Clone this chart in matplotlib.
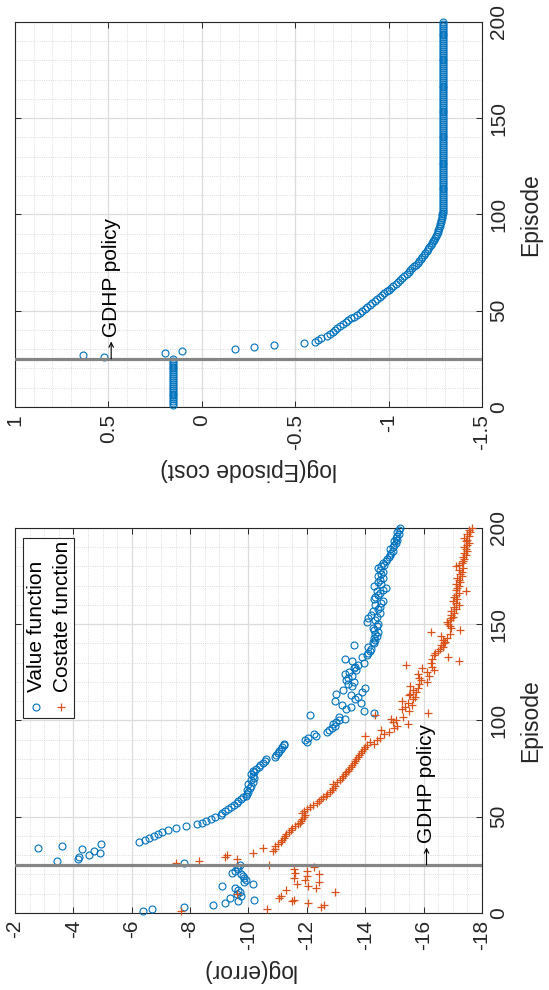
import numpy as np
import matplotlib.pyplot as plt
from matplotlib.ticker import MultipleLocator, FuncFormatter
from matplotlib.patches import Rectangle

plt.rcParams['font.family'] = ['Liberation Sans', 'DejaVu Sans']
plt.rcParams['axes.unicode_minus'] = False

# episode index (shown on the vertical axis, the figure is turned on its side)
episodes = np.arange(1, 201)
switch_episode = 25

# log(error) of the value function, episodes 1..200
value_err = [
    -6.4, -6.7, -7.8, -8.8, -9.2, -9.65, -10.2, -9.35, -9.75, -9.6,
    -9.7, -9.65, -9.55, -9.1, -10.15, -9.85, -9.9, -9.85, -9.8, -9.75,
    -9.45, -9.55, -9.65, -9.6, -9.7, -7.8, -3.45, -4.15, -4.2, -4.55,
    -4.9, -4.7, -4.3, -2.8, -3.6, -4.95, -6.25, -6.45, -6.6, -6.75,
    -6.9, -7.05, -7.25, -7.5, -7.85, -8.25, -8.4, -8.55, -8.7, -8.85,
    -9.05, -9.1, -9.2, -9.3, -9.4, -9.5, -9.6, -9.65, -9.75, -9.8,
    -9.9, -9.95, -10.0, -9.95, -10.05, -10.1, -10.0, -10.15, -10.1, -10.2,
    -10.15, -10.1, -10.2, -10.15, -10.25, -10.35, -10.4, -10.5, -10.55, -10.6,
    -10.9, -10.95, -11.0, -11.05, -11.1, -11.15, -11.2, -11.2, -12.0, -11.95,
    -12.05, -12.3, -12.25, -12.7, -12.75, -12.85, -12.95, -12.9, -13.0, -13.1,
    -13.3, -13.1, -12.1, -14.3, -13.95, -13.35, -13.5, -13.2, -13.85, -12.95,
    -13.65, -13.75, -13.5, -13.0, -13.9, -13.25, -14.0, -13.55, -13.4, -13.6,
    -13.35, -13.4, -13.55, -13.3, -13.45, -13.7, -13.6, -13.65, -13.75, -13.95,
    -13.55, -13.3, -13.9, -14.05, -14.1, -14.15, -14.2, -14.1, -13.6, -14.3,
    -14.25, -14.35, -14.3, -14.4, -14.35, -14.45, -14.3, -14.25, -14.4, -14.45,
    -14.05, -14.35, -14.1, -14.4, -14.2, -14.5, -14.25, -14.45, -14.5, -14.35,
    -14.55, -14.6, -14.3, -14.35, -14.45, -14.5, -14.4, -14.6, -14.7, -14.3,
    -14.55, -14.45, -14.5, -14.6, -14.45, -14.55, -14.6, -14.5, -14.45, -14.55,
    -14.65, -14.6, -14.7, -14.75, -14.8, -14.85, -14.9, -14.95, -14.85, -14.95,
    -15.0, -15.05, -15.0, -15.1, -15.05, -15.1, -15.15, -15.1, -15.15, -15.2,
]

# log(error) of the costate function, episodes 1..200
costate_err = [
    -7.7, -10.65, -12.5, -12.6, -12.05, -11.5, -11.55, -11.05, -11.1, -9.6,
    -12.95, -11.3, -12.3, -12.05, -11.65, -12.4, -11.95, -11.55, -12.0, -12.4,
    -11.6, -12.0, -11.55, -12.25, -10.7, -7.5, -8.3, -9.6, -9.2, -9.25,
    -10.15, -10.85, -10.9, -10.5, -10.9, -11.0, -11.1, -11.15, -11.2, -11.25,
    -11.3, -11.4, -11.45, -11.5, -11.6, -11.7, -11.75, -11.8, -11.85, -11.9,
    -11.95, -11.85, -11.9, -12.0, -12.1, -12.2, -12.35, -12.4, -12.5, -12.55,
    -12.65, -12.7, -12.8, -12.85, -12.9, -12.95, -12.9, -13.05, -13.15, -13.2,
    -13.25, -13.3, -13.35, -13.4, -13.45, -13.5, -13.55, -13.6, -13.65, -13.7,
    -13.75, -13.8, -13.85, -13.9, -13.95, -14.0, -14.05, -14.3, -14.15, -14.4,
    -14.5, -14.0, -14.65, -14.8, -14.55, -15.0, -15.1, -15.45, -14.95, -15.05,
    -14.9, -15.3, -14.35, -16.15, -15.5, -15.25, -15.35, -15.6, -15.45, -15.25,
    -15.65, -15.7, -15.5, -15.55, -15.75, -15.65, -15.8, -15.55, -15.85, -16.1,
    -15.9, -15.85, -16.2, -15.8, -16.1, -16.35, -15.95, -16.3, -15.4, -16.25,
    -17.2, -16.3, -16.85, -16.35, -16.4, -16.5, -16.55, -16.65, -16.6, -16.7,
    -16.75, -16.65, -16.8, -16.6, -16.9, -16.25, -17.25, -16.95, -16.9, -16.85,
    -16.8, -16.9, -16.95, -17.0, -16.95, -17.05, -16.95, -17.1, -17.05, -17.2,
    -17.1, -17.0, -17.15, -17.05, -17.1, -17.2, -17.45, -17.1, -17.15, -17.2,
    -17.1, -17.25, -17.2, -17.15, -17.3, -17.25, -17.3, -17.2, -17.35, -17.1,
    -17.2, -17.3, -17.35, -17.4, -17.35, -17.45, -17.4, -17.5, -17.45, -17.4,
    -17.5, -17.55, -17.45, -17.5, -17.4, -17.55, -17.5, -17.6, -17.55, -17.65,
]

# log(episode cost), episodes 1..200
episode_cost = [
    0.152, 0.152, 0.152, 0.152, 0.152, 0.152, 0.152, 0.152, 0.152, 0.152,
    0.152, 0.152, 0.152, 0.152, 0.152, 0.152, 0.152, 0.152, 0.152, 0.152,
    0.152, 0.152, 0.152, 0.152, 0.152, 0.524, 0.634, 0.199, 0.108, -0.18,
    -0.279, -0.385, -0.547, -0.606, -0.62, -0.64, -0.668, -0.686, -0.70, -0.713,
    -0.725, -0.74, -0.755, -0.77, -0.784, -0.80, -0.815, -0.83, -0.845, -0.86,
    -0.873, -0.886, -0.90, -0.913, -0.926, -0.94, -0.953, -0.965, -0.978, -0.99,
    -1.002, -1.014, -1.026, -1.038, -1.05, -1.062, -1.074, -1.085, -1.096, -1.107,
    -1.117, -1.127, -1.137, -1.146, -1.155, -1.164, -1.172, -1.18, -1.188, -1.196,
    -1.204, -1.211, -1.218, -1.225, -1.231, -1.237, -1.243, -1.248, -1.253, -1.258,
    -1.263, -1.267, -1.271, -1.275, -1.278, -1.281, -1.283, -1.285, -1.287, -1.288,
    -1.289, -1.289, -1.289, -1.289, -1.289, -1.289, -1.289, -1.289, -1.289, -1.289,
    -1.289, -1.289, -1.289, -1.289, -1.289, -1.289, -1.289, -1.289, -1.289, -1.289,
    -1.289, -1.289, -1.289, -1.289, -1.289, -1.289, -1.289, -1.289, -1.289, -1.289,
    -1.289, -1.289, -1.289, -1.289, -1.289, -1.289, -1.289, -1.289, -1.289, -1.289,
    -1.289, -1.289, -1.289, -1.289, -1.289, -1.289, -1.289, -1.289, -1.289, -1.289,
    -1.289, -1.289, -1.289, -1.289, -1.289, -1.289, -1.289, -1.289, -1.289, -1.289,
    -1.289, -1.289, -1.289, -1.289, -1.289, -1.289, -1.289, -1.289, -1.289, -1.289,
    -1.289, -1.289, -1.289, -1.289, -1.289, -1.289, -1.289, -1.289, -1.289, -1.289,
    -1.289, -1.289, -1.289, -1.289, -1.289, -1.289, -1.289, -1.289, -1.289, -1.289,
    -1.289, -1.289, -1.289, -1.289, -1.289, -1.289, -1.289, -1.289, -1.289, -1.289,
]

blue = '#0072BD'
orange = '#D95319'
dark = '#262626'
tick_fs = 15
label_fs = 16.5

fig = plt.figure(figsize=(5.49, 9.90), dpi=100)
ax_cost = fig.add_axes([0.0273, 0.5889, 0.8506, 0.3889])
ax_err = fig.add_axes([0.0273, 0.0778, 0.8506, 0.3889])


def style_axes(ax, xlim, xmajor, xminor, xlabel):
    ax.set_xlim(*xlim)
    ax.set_ylim(0, 200)
    ax.xaxis.set_major_locator(MultipleLocator(xmajor))
    ax.xaxis.set_minor_locator(MultipleLocator(xminor))
    ax.yaxis.set_major_locator(MultipleLocator(50))
    ax.yaxis.set_minor_locator(MultipleLocator(10))
    ax.xaxis.set_major_formatter(FuncFormatter(lambda v, p: '%g' % v))
    ax.grid(which='major', color='#dcdcdc', lw=0.9)
    ax.grid(which='minor', color='#d0d0d0', lw=0.6, ls=':')
    ax.set_axisbelow(True)
    ax.yaxis.tick_right()
    ax.yaxis.set_label_position('right')
    ax.tick_params(which='major', direction='in', length=4, width=0.7, color=dark,
                   top=True, bottom=True, left=True, right=True,
                   labelsize=tick_fs, labelcolor=dark, pad=5)
    ax.tick_params(which='minor', length=0)
    ax.tick_params(axis='x', labelrotation=90)
    ax.tick_params(axis='y', labelrotation=90)
    plt.setp(ax.get_yticklabels(), va='center')
    for s in ax.spines.values():
        s.set_color(dark)
        s.set_linewidth(0.8)
    ax.set_xlabel(xlabel, rotation=180, fontsize=label_fs, color=dark, labelpad=6)
    ax.set_ylabel('Episode', rotation=90, fontsize=label_fs, color=dark, labelpad=8)


def policy_note(ax, x):
    # thin arrow standing on the switch line, the words follow it
    ax.annotate('', xy=(x, switch_episode + 9), xytext=(x, switch_episode),
                arrowprops=dict(arrowstyle='->', lw=0.8, color='black',
                                shrinkA=0, shrinkB=0, mutation_scale=8),
                zorder=5)
    ax.text(x, switch_episode + 11.5, 'GDHP policy', rotation=90,
            rotation_mode='anchor', ha='left', va='center', fontsize=15,
            zorder=5)


# top panel: episode cost
style_axes(ax_cost, (1, -1.5), 0.5, 0.1, 'log(Episode cost)')
ax_cost.plot(episode_cost, episodes, 'o', mfc='none', mec=blue, ms=5, mew=0.8,
             zorder=3, clip_on=False)
ax_cost.axhline(switch_episode, color='#858585', lw=2.3, zorder=4)
policy_note(ax_cost, 0.485)

# bottom panel: approximation errors
style_axes(ax_err, (-2, -18), 2, 0.5, 'log(error)')
ax_err.plot(value_err, episodes, 'o', mfc='none', mec=blue, ms=5, mew=0.8,
            zorder=3, clip_on=False)
ax_err.plot(costate_err, episodes, '+', color=orange, ms=5.8, mew=0.9,
            zorder=3, clip_on=False)
ax_err.axhline(switch_episode, color='#858585', lw=2.3, zorder=4)
policy_note(ax_err, -16.1)

# legend box, turned like the rest of the figure
tr = ax_err.transAxes
ax_err.add_patch(Rectangle((0.0165, 0.507), 0.11, 0.468, transform=tr,
                           facecolor='white', edgecolor=dark, lw=0.8, zorder=6))
ax_err.plot([0.044], [0.535], 'o', mfc='none', mec=blue, ms=5, mew=0.8,
            transform=tr, zorder=7)
ax_err.plot([0.099], [0.535], '+', color=orange, ms=5.8, mew=0.9,
            transform=tr, zorder=7)
ax_err.text(0.046, 0.575, 'Value function', rotation=90, rotation_mode='anchor',
            ha='left', va='center', fontsize=15, transform=tr, zorder=7)
ax_err.text(0.101, 0.575, 'Costate function', rotation=90, rotation_mode='anchor',
            ha='left', va='center', fontsize=15, transform=tr, zorder=7)

fig.savefig('out.png', dpi=100, facecolor='white')
